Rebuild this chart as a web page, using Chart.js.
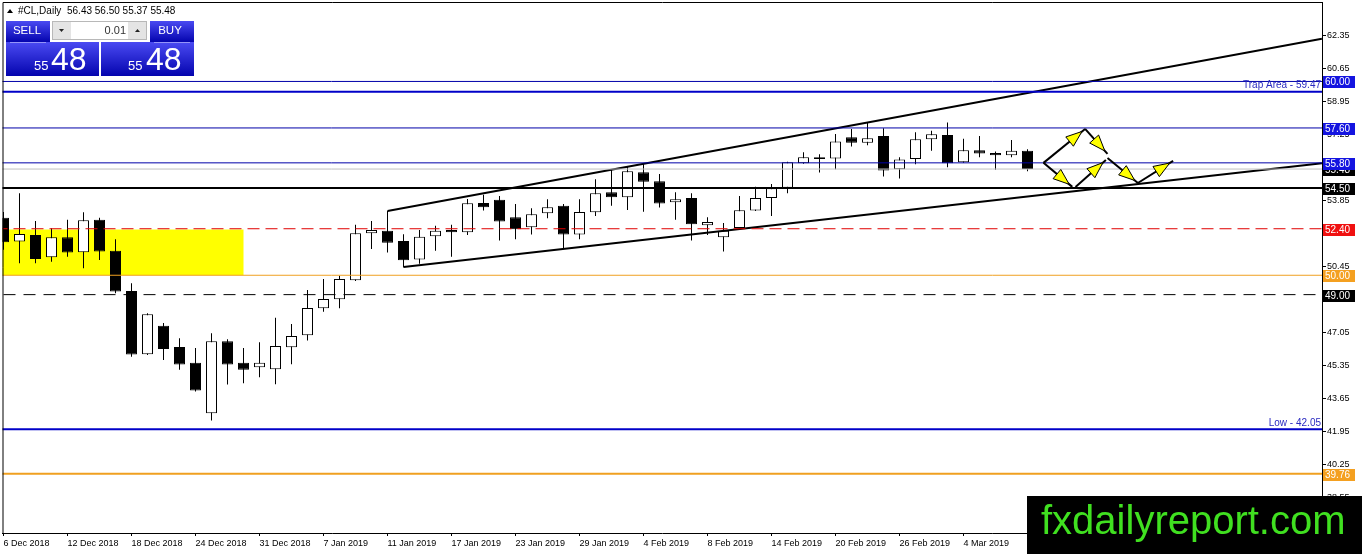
<!DOCTYPE html>
<html>
<head>
<meta charset="utf-8">
<script src="https://cdn.jsdelivr.net/npm/chart.js@4.4.1/dist/chart.umd.min.js"></script>
<style>
  html, body { margin: 0; padding: 0; background: #fff; overflow: hidden; }
  canvas { display: block; }
</style>
</head>
<body>
<canvas id="cl" width="1362" height="554"></canvas>
<script>
// #CL daily candles, 6 Dec 2018 .. 8 Mar 2019 (one entry per bar)
const openP  = [52.97, 51.74, 52.08, 50.93, 51.96, 51.19, 52.86, 51.26, 49.19, 45.93,
                47.39, 46.30, 45.49, 42.88, 46.60, 45.49, 45.25, 45.15, 46.29, 46.91,
                48.30, 48.76, 49.74, 52.17, 52.29, 51.77, 50.81, 52.01, 52.34, 52.22,
                53.73, 53.89, 52.99, 52.48, 53.20, 53.58, 52.10, 53.25, 54.28, 54.03,
                55.32, 54.85, 53.77, 53.98, 52.58, 51.96, 52.44, 53.34, 53.98, 54.52,
                55.78, 56.09, 56.02, 57.12, 56.84, 57.19, 55.47, 56.00, 57.02, 57.24,
                55.83, 56.45, 56.31, 56.19, 56.43];
const highP  = [53.27, 54.23, 52.80, 52.43, 52.86, 53.25, 52.97, 51.86, 49.59, 48.04,
                47.53, 46.75, 46.24, 47.01, 46.70, 46.24, 46.54, 47.81, 47.49, 49.24,
                49.81, 49.98, 52.60, 52.80, 53.32, 52.12, 52.34, 52.55, 52.60, 53.94,
                54.15, 54.09, 53.68, 53.46, 53.92, 53.68, 53.92, 54.96, 55.44, 55.61,
                55.78, 55.23, 54.28, 54.23, 52.99, 52.69, 54.09, 54.57, 54.71, 55.86,
                56.35, 56.25, 57.29, 57.55, 57.85, 57.59, 56.09, 57.38, 57.46, 57.88,
                57.04, 57.19, 56.38, 56.98, 56.50];
const lowP   = [51.31, 50.62, 50.62, 50.70, 50.96, 50.36, 50.79, 49.07, 45.80, 45.89,
                45.63, 45.12, 44.00, 42.50, 44.36, 44.43, 44.74, 44.38, 45.41, 46.63,
                48.12, 48.30, 49.70, 51.36, 51.17, 50.41, 50.59, 51.27, 50.96, 52.08,
                53.34, 51.79, 51.86, 52.10, 52.94, 51.40, 51.86, 53.06, 53.58, 53.37,
                53.28, 53.49, 52.86, 51.79, 52.08, 51.22, 52.40, 53.32, 53.06, 54.23,
                55.75, 55.30, 55.47, 56.64, 56.71, 55.09, 54.99, 55.73, 56.43, 55.57,
                55.80, 56.09, 55.44, 56.09, 55.37];
const closeP = [51.70, 52.13, 50.84, 51.96, 51.17, 52.84, 51.22, 49.16, 45.91, 47.99,
                46.20, 45.39, 44.05, 46.60, 45.39, 45.13, 45.48, 46.35, 46.87, 48.31,
                48.78, 49.81, 52.17, 52.34, 51.68, 50.78, 51.99, 52.30, 52.22, 53.72,
                53.51, 52.77, 52.38, 53.15, 53.51, 52.10, 53.27, 54.23, 54.03, 55.37,
                54.83, 53.70, 53.92, 52.63, 52.75, 52.30, 53.36, 53.98, 54.49, 55.83,
                56.09, 56.00, 56.90, 56.84, 57.07, 55.40, 55.97, 57.02, 57.28, 55.78,
                56.45, 56.28, 56.19, 56.42, 55.48];

// date labels, one every 4 bars
const tickLabels = ['6 Dec 2018', '12 Dec 2018', '18 Dec 2018', '24 Dec 2018', '31 Dec 2018',
                    '7 Jan 2019', '11 Jan 2019', '17 Jan 2019', '23 Jan 2019', '29 Jan 2019',
                    '4 Feb 2019', '8 Feb 2019', '14 Feb 2019', '20 Feb 2019', '26 Feb 2019',
                    '4 Mar 2019'];
const priceTicks = [62.35, 60.65, 58.95, 57.25, 55.55, 53.85, 52.15, 50.45, 48.75,
                    47.05, 45.35, 43.65, 41.95, 40.25, 38.55];

// horizontal levels drawn on the chart
const levelValues = [60.00, 59.47, 57.60, 55.80, 55.48, 54.50, 52.40, 50.00, 49.00, 42.05, 39.76];
// price tags on the right axis
const tagValues = [60.00, 57.60, 55.48, 55.80, 54.50, 52.40, 50.00, 49.00, 39.76];

// channel lines: [bar, price] at both ends
const channelUpper = [[24, 53.32], [82.4, 62.20]];
const channelLower = [[25, 50.43], [82.4, 55.78]];

// yellow zone: bars and price band
const zoneBars = [-2, 15];
const zonePrices = [50.00, 52.36];

// projected path arrows: from / to as [bar, price]
const arrowFrom = [[65.0, 55.80], [67.6, 57.55], [65.0, 55.80], [67.0, 54.56], [69.0, 56.05], [70.9, 54.76]];
const arrowTo   = [[67.6, 57.55], [69.0, 56.26], [66.8, 54.56], [68.9, 55.95], [70.9, 54.76], [73.1, 55.90]];

const FONT = "'Liberation Sans', Arial, sans-serif";
const X_MIN = -0.0625;
const X_MAX = X_MIN + 1319.5 / 16;

const levelStyle = {
  60.00: { color: '#0000a8', width: 1 },
  59.47: { color: '#0000c8', width: 2 },
  57.60: { color: '#0000a8', width: 1 },
  55.80: { color: '#0000a8', width: 1 },
  55.48: { color: '#c0c0c0', width: 1 },
  54.50: { color: '#000000', width: 2 },
  52.40: { color: '#e00000', width: 1, dash: [12, 6] },
  50.00: { color: '#f0a020', width: 1 },
  49.00: { color: '#000000', width: 1, dash: [12, 8] },
  42.05: { color: '#0000c8', width: 2 },
  39.76: { color: '#f0a020', width: 2 }
};
const tagColor = {
  60.00: '#1414e0', 57.60: '#1414e0', 55.80: '#1414e0', 55.48: '#000000',
  54.50: '#000000', 52.40: '#f01010', 50.00: '#f4a020', 49.00: '#000000', 39.76: '#f4a020'
};

// ----------------------
// Datasets
// ----------------------
const bars = openP.map((_, i) => i);
const bodies = bars.map(i => ({ x: i, y: [openP[i], closeP[i]] }));
const wicks = bars.map(i => ({ x: i, y: [lowP[i], highP[i]] }));
const bodyFill = bars.map(i => closeP[i] >= openP[i] ? '#ffffff' : '#000000');

const levelSets = levelValues.map(v => ({
  type: 'line',
  data: [{ x: -5, y: v }, { x: 100, y: v }],
  borderColor: levelStyle[v].color,
  borderWidth: levelStyle[v].width,
  borderDash: levelStyle[v].dash || [],
  pointRadius: 0,
  fill: false
}));

const channelSets = [channelUpper, channelLower].map(pts => ({
  type: 'line',
  data: pts.map(p => ({ x: p[0], y: p[1] })),
  borderColor: '#000',
  borderWidth: 2,
  pointRadius: 0,
  fill: false
}));

// ----------------------
// Drawing helpers
// ----------------------
function drawArrow(c, x1, y1, x2, y2) {
  const ang = Math.atan2(y2 - y1, x2 - x1);
  const cs = Math.cos(ang), sn = Math.sin(ang);
  c.strokeStyle = '#000';
  c.lineWidth = 2;
  c.beginPath(); c.moveTo(x1, y1); c.lineTo(x2, y2); c.stroke();
  const tx = x2 - cs * 4, ty = y2 - sn * 4;
  const bx = tx - cs * 16, by = ty - sn * 16;
  c.beginPath();
  c.moveTo(tx, ty);
  c.lineTo(bx + sn * 6, by - cs * 6);
  c.lineTo(bx - sn * 6, by + cs * 6);
  c.closePath();
  c.fillStyle = '#ffff00';
  c.fill();
  c.lineWidth = 1;
  c.stroke();
}

function blueBox(c, x, y, w, h) {
  const g = c.createLinearGradient(0, y, 0, y + h);
  g.addColorStop(0, '#4a4af2');
  g.addColorStop(1, '#0404ae');
  c.fillStyle = g;
  c.fillRect(x, y, w, h);
}

function drawPanel(c) {
  // header
  c.fillStyle = '#000';
  c.beginPath(); c.moveTo(7, 13); c.lineTo(13, 13); c.lineTo(10, 9); c.closePath(); c.fill();
  c.font = '10px ' + FONT;
  c.textBaseline = 'middle';
  c.textAlign = 'left';
  c.fillText('#CL,Daily', 18, 11);
  c.fillText('56.43 56.50 55.37 55.48', 67, 11);

  // sell / buy boxes
  blueBox(c, 6, 21, 44, 21);
  blueBox(c, 150, 21, 44, 21);
  blueBox(c, 6, 42, 93, 34);
  blueBox(c, 101, 42, 93, 34);
  c.strokeStyle = 'rgba(200,200,255,0.6)';
  c.lineWidth = 1;
  c.beginPath(); c.moveTo(10, 42.5); c.lineTo(46, 42.5); c.moveTo(154, 42.5); c.lineTo(190, 42.5); c.stroke();

  // lot controls
  c.fillStyle = '#e4e4e4';
  c.fillRect(52, 21, 19, 19);
  c.fillRect(128, 21, 19, 19);
  c.fillStyle = '#fff';
  c.fillRect(71, 21, 57, 19);
  c.strokeStyle = '#b8b8b8';
  c.strokeRect(52.5, 21.5, 94, 18);
  c.fillStyle = '#222';
  c.beginPath(); c.moveTo(59, 29); c.lineTo(64, 29); c.lineTo(61.5, 32); c.closePath(); c.fill();
  c.beginPath(); c.moveTo(135, 32); c.lineTo(140, 32); c.lineTo(137.5, 29); c.closePath(); c.fill();
  c.font = '11px ' + FONT;
  c.textAlign = 'right';
  c.fillStyle = '#333';
  c.fillText('0.01', 126, 31);

  c.fillStyle = '#fff';
  c.textAlign = 'center';
  c.font = '11.5px ' + FONT;
  c.fillText('SELL', 27, 31);
  c.fillText('BUY', 170, 31);

  c.textAlign = 'left';
  c.textBaseline = 'alphabetic';
  c.font = '13px ' + FONT;
  c.fillText('55', 34, 70);
  c.fillText('55', 128, 70);
  c.font = '32px ' + FONT;
  c.fillText('48', 51, 70);
  c.fillText('48', 146, 70);
}

const overlayPlugin = {
  id: 'overlay',
  beforeDatasetsDraw(chart) {
    const { ctx: c, scales: { x, y }, chartArea: a } = chart;
    c.save();
    c.beginPath(); c.rect(a.left, a.top, a.right - a.left, a.bottom - a.top); c.clip();
    const x1 = x.getPixelForValue(zoneBars[0]), x2 = x.getPixelForValue(zoneBars[1]);
    const y1 = y.getPixelForValue(zonePrices[1]), y2 = y.getPixelForValue(zonePrices[0]);
    c.fillStyle = '#ffff00';
    c.fillRect(x1, y1, x2 - x1, y2 - y1);
    c.restore();
  },
  afterDraw(chart) {
    const { ctx: c, scales: { x, y }, chartArea: a } = chart;
    c.save();

    // arrows
    arrowFrom.forEach((p, i) => {
      const q = arrowTo[i];
      drawArrow(c, x.getPixelForValue(p[0]), y.getPixelForValue(p[1]),
                x.getPixelForValue(q[0]), y.getPixelForValue(q[1]));
    });

    // frame
    c.strokeStyle = '#000';
    c.lineWidth = 1;
    c.beginPath();
    c.moveTo(a.left + 0.5, a.bottom); c.lineTo(a.left + 0.5, a.top + 0.5); c.lineTo(a.right, a.top + 0.5);
    c.stroke();

    // level captions
    c.font = '10px ' + FONT;
    c.fillStyle = '#2a2ac0';
    c.textAlign = 'right';
    c.textBaseline = 'bottom';
    c.fillText('Trap Area - 59.47', a.right - 1, y.getPixelForValue(59.47) - 1);
    c.fillText('Low - 42.05', a.right - 1, y.getPixelForValue(42.05) - 1);

    // axis tags
    c.font = '10px ' + FONT;
    c.textAlign = 'left';
    c.textBaseline = 'middle';
    tagValues.forEach(v => {
      const py = Math.round(y.getPixelForValue(v));
      c.fillStyle = tagColor[v];
      c.fillRect(a.right + 1, py - 5, 32, 12);
      c.fillStyle = '#fff';
      c.fillText(v.toFixed(2), a.right + 3, py + 1);
    });

    drawPanel(c);

    // watermark
    c.fillStyle = '#000';
    c.fillRect(1027, 496, 335, 58);
    c.fillStyle = '#40e020';
    c.font = '40px ' + FONT;
    c.textAlign = 'left';
    c.textBaseline = 'alphabetic';
    c.fillText('fxdailyreport.com', 1041, 534);
    c.restore();
  }
};

// ----------------------
// Chart
// ----------------------
const ctx = document.getElementById('cl').getContext('2d');
new Chart(ctx, {
  type: 'bar',
  data: {
    datasets: [
      ...levelSets,
      ...channelSets,
      {
        type: 'bar',
        data: bodies,
        backgroundColor: bodyFill,
        borderColor: '#000',
        borderWidth: 1,
        borderSkipped: false,
        inflateAmount: 0,
        barThickness: 11,
        grouped: false
      },
      {
        type: 'bar',
        data: wicks,
        backgroundColor: '#000',
        borderWidth: 0,
        inflateAmount: 0,
        barThickness: 1,
        grouped: false
      }
    ]
  },
  options: {
    responsive: false,
    animation: false,
    devicePixelRatio: 1,
    layout: { padding: { left: 2.5, top: 2, right: 0, bottom: 0 } },
    plugins: { legend: { display: false }, tooltip: { enabled: false } },
    scales: {
      x: {
        type: 'linear',
        min: X_MIN,
        max: X_MAX,
        offset: false,
        grid: { drawOnChartArea: false, tickLength: 3, color: '#000', offset: false },
        border: { display: true, color: '#000', width: 1 },
        ticks: {
          align: 'start',
          autoSkip: false,
          maxRotation: 0,
          padding: 2,
          color: '#000',
          font: { family: FONT, size: 9 },
          callback: v => tickLabels[Math.round(v / 4)] || ''
        },
        afterBuildTicks: s => { s.ticks = tickLabels.map((_, i) => ({ value: i * 4 })); },
        afterFit: s => { s.height = 21; s.paddingLeft = 0; s.paddingRight = 0; }
      },
      y: {
        position: 'right',
        min: 36.70,
        max: 64.10,
        grid: { drawOnChartArea: false, tickLength: 4, color: '#000' },
        border: { display: true, color: '#000', width: 1 },
        ticks: {
          padding: 1,
          color: '#000',
          font: { family: FONT, size: 9 },
          callback: v => v.toFixed(2)
        },
        afterBuildTicks: s => { s.ticks = priceTicks.map(v => ({ value: v })); },
        afterFit: s => { s.width = 40; s.paddingTop = 0; s.paddingBottom = 0; }
      }
    }
  },
  plugins: [overlayPlugin]
});
</script>
</body>
</html>
